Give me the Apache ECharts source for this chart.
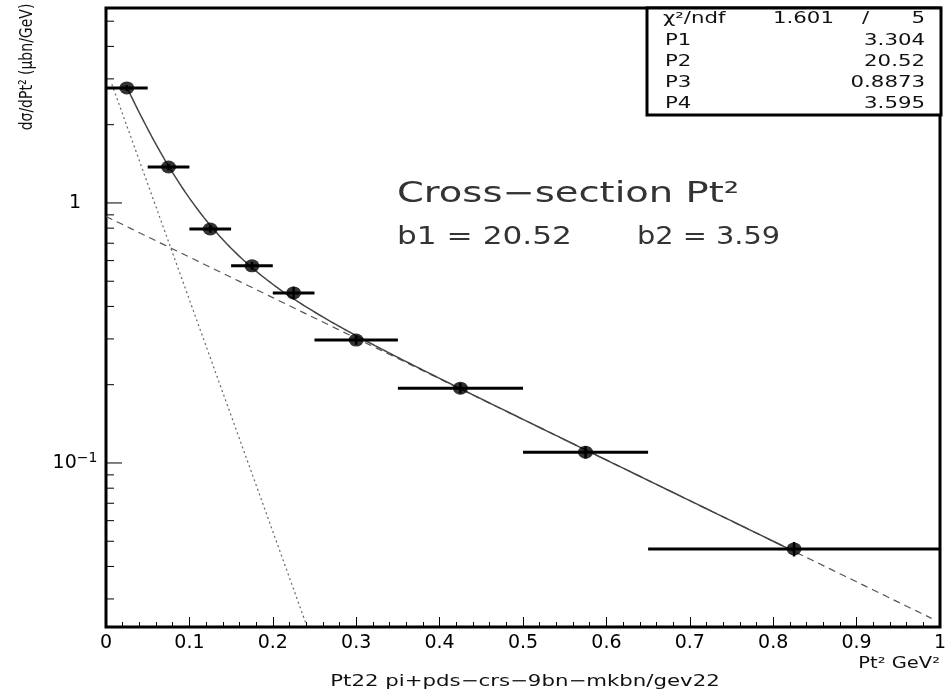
<!DOCTYPE html>
<html>
<head>
<meta charset="utf-8">
<script src="https://cdn.jsdelivr.net/npm/echarts@6/dist/echarts.min.js"></script>
<style>
  html, body { margin: 0; padding: 0; background: #fff; }
  #chart { width: 945px; height: 694px; }
</style>
</head>
<body>
<div id="chart"></div>
<script>
// Measured cross-section bins: centre, bin edges, value and its error
const binCentre = [0.025, 0.075, 0.125, 0.175, 0.225, 0.3, 0.425, 0.575, 0.825];
const binLow    = [0, 0.05, 0.1, 0.15, 0.2, 0.25, 0.35, 0.5, 0.65];
const binHigh   = [0.05, 0.1, 0.15, 0.2, 0.25, 0.35, 0.5, 0.65, 1.0];
const sigma     = [2.77, 1.375, 0.794, 0.573, 0.451, 0.297, 0.194, 0.110, 0.0467];
const sigmaErr  = [0.07, 0.04, 0.025, 0.02, 0.025, 0.012, 0.009, 0.006, 0.003];

// Fit result: P1*exp(-P2*x) + P3*exp(-P4*x)
const fitParams = [3.304, 20.52, 0.8873, 3.595];
const fitLabels = ['P1', 'P2', 'P3', 'P4'];
const fitValueText = ['3.304', '20.52', '0.8873', '3.595'];
const chi2Text = ['1.601', '/', '5'];

// Axis ticks
const xTicks = [0, 0.1, 0.2, 0.3, 0.4, 0.5, 0.6, 0.7, 0.8, 0.9, 1];
const yMajorTicks = [0.1, 1];
const yMinorTicks = [0.03, 0.04, 0.05, 0.06, 0.07, 0.08, 0.09,
                     0.2, 0.3, 0.4, 0.5, 0.6, 0.7, 0.8, 0.9,
                     2, 3, 4, 5];

const Y_MIN = 0.0234, Y_MAX = 5.62;

const steep = x => fitParams[0] * Math.exp(-fitParams[1] * x);
const flat  = x => fitParams[2] * Math.exp(-fitParams[3] * x);
const total = x => steep(x) + flat(x);

function sample(fn, from, to, step) {
  const out = [];
  for (let x = from; x <= to + 1e-9; x += step) out.push([+x.toFixed(5), fn(x)]);
  return out;
}

const FONT = '"DejaVu Sans", "Liberation Sans", sans-serif';
const SX = 1.33;

const chart = echarts.init(document.getElementById('chart'));

function label(x, y, str, size, opts) {
  opts = opts || {};
  return {
    type: 'text', x: x, y: y, z: 100,
    scaleX: opts.scaleX != null ? opts.scaleX : SX,
    scaleY: opts.scaleY != null ? opts.scaleY : 1,
    rotation: opts.rotation || 0,
    style: {
      text: str,
      font: size + 'px ' + FONT,
      fill: opts.color || '#111',
      textAlign: opts.align || 'left', align: opts.align || 'left',
      textVerticalAlign: 'middle', verticalAlign: 'middle'
    }
  };
}

const statRowsY = [19, 41, 62, 83, 104];
const statsElems = [
  { type: 'rect', z: 90, shape: { x: 647, y: 8, width: 294, height: 107 },
    style: { fill: '#fff', stroke: '#000', lineWidth: 3 } },
  label(663, statRowsY[0], 'χ²/ndf', 16),
  label(773, statRowsY[0], chi2Text[0], 16),
  label(862, statRowsY[0], chi2Text[1], 16),
  label(925, statRowsY[0], chi2Text[2], 16, { align: 'right' })
];
fitLabels.forEach((lab, i) => {
  statsElems.push(label(665, statRowsY[i + 1], lab, 16));
  statsElems.push(label(925, statRowsY[i + 1], fitValueText[i], 16, { align: 'right' }));
});

const option = {
  animation: false,
  backgroundColor: '#fff',
  textStyle: { fontFamily: FONT, fontSize: 19 },
  grid: {
    left: 106, right: 5, top: 8, bottom: 67,
    show: true, borderColor: '#000', borderWidth: 3,
    outerBoundsMode: 'none'
  },
  xAxis: {
    type: 'value', min: 0, max: 1, interval: 0.1,
    axisLine: { show: false },
    splitLine: { show: false },
    axisTick: { show: true, inside: true, length: 10, lineStyle: { color: '#000', width: 1 } },
    minorTick: { show: true, splitNumber: 5, length: 5, lineStyle: { color: '#000', width: 1 } },
    axisLabel: {
      margin: 7, color: '#000', fontFamily: FONT, fontSize: 19,
      formatter: v => {
        const t = xTicks.find(k => Math.abs(k - v) < 1e-6);
        return t === undefined ? '' : '{t|' + t + '}';
      },
      rich: { t: { fontFamily: FONT, fontSize: 19, color: '#000' } }
    }
  },
  yAxis: {
    type: 'log', logBase: 10, min: Y_MIN, max: Y_MAX,
    axisLine: { show: false },
    splitLine: { show: false },
    axisTick: { show: false },
    minorTick: { show: false },
    axisLabel: {
      showMinLabel: false, showMaxLabel: false,
      margin: 31, align: 'center', color: '#000', fontFamily: FONT, fontSize: 19,
      formatter: v => {
        if (Math.abs(Math.log10(v)) < 1e-6) return '{b|1}';
        if (Math.abs(Math.log10(v) + 1) < 1e-6) return '{b|10}{s|−1}';
        return '';
      },
      rich: {
        b: { fontFamily: FONT, fontSize: 19, color: '#000' },
        s: { fontFamily: FONT, fontSize: 14, color: '#000', padding: [0, 0, 10, 0] }
      }
    }
  },
  graphic: [
    label(397, 195, 'Cross−section Pt²', 28, { scaleX: 1.374, color: '#333' }),
    label(397, 238, 'b1 = 20.52', 24, { scaleX: 1.3, color: '#333' }),
    label(637, 238, 'b2 = 3.59', 24, { scaleX: 1.2, color: '#333' }),
    label(940, 664, 'Pt² GeV²', 15, { align: 'right', scaleX: 1.3 }),
    label(525, 682, 'Pt22 pi+pds−crs−9bn−mkbn/gev22', 16, { align: 'center', scaleX: 1.33 }),
    label(27, 67, 'dσ/dPt² (μbn/GeV)', 14, { align: 'center', scaleX: 1, scaleY: 1.3, rotation: Math.PI / 2 })
  ].concat(statsElems),
  series: [
    {
      // steep component
      type: 'line', data: sample(steep, 0.007, 0.24, 0.0025),
      showSymbol: false, silent: true, z: 3,
      lineStyle: { color: '#666', width: 1.2, type: [2, 3] }
    },
    {
      // flat component
      type: 'line', data: sample(flat, 0, 0.99, 0.005),
      showSymbol: false, silent: true, z: 3,
      lineStyle: { color: '#555', width: 1.2, type: [7, 5] }
    },
    {
      // full fit over the fitted range
      type: 'line', data: sample(total, 0.025, 0.825, 0.0025),
      showSymbol: false, silent: true, z: 4,
      lineStyle: { color: '#444', width: 1.5 }
    },
    {
      // bin widths and errors
      type: 'custom', z: 5, silent: true,
      data: binCentre.map((c, i) => [c, sigma[i], binLow[i], binHigh[i], sigmaErr[i]]),
      renderItem: (params, api) => {
        const y = api.value(1), err = api.value(4);
        const l = api.coord([api.value(2), y]);
        const r = api.coord([api.value(3), y]);
        const top = api.coord([api.value(0), y + err]);
        const bot = api.coord([api.value(0), y - err]);
        return {
          type: 'group',
          children: [
            { type: 'line', shape: { x1: l[0], y1: l[1], x2: r[0], y2: r[1] },
              style: { stroke: '#000', lineWidth: 3 } },
            { type: 'line', shape: { x1: top[0], y1: top[1], x2: bot[0], y2: bot[1] },
              style: { stroke: '#000', lineWidth: 2.5 } }
          ]
        };
      }
    },
    {
      type: 'scatter', z: 6, silent: true,
      data: binCentre.map((c, i) => [c, sigma[i]]),
      symbol: 'circle', symbolSize: [15, 13],
      itemStyle: { color: '#000' }
    },
    {
      // log-axis tick marks drawn inward from the left frame
      type: 'custom', z: 7, silent: true,
      data: yMajorTicks.map(v => [0, v, 16]).concat(yMinorTicks.map(v => [0, v, 8])),
      renderItem: (params, api) => {
        const p = api.coord([0, api.value(1)]);
        return { type: 'line', shape: { x1: p[0], y1: p[1], x2: p[0] + api.value(2), y2: p[1] },
                 style: { stroke: '#000', lineWidth: 1 } };
      }
    }
  ]
};

chart.setOption(option);
</script>
</body>
</html>
